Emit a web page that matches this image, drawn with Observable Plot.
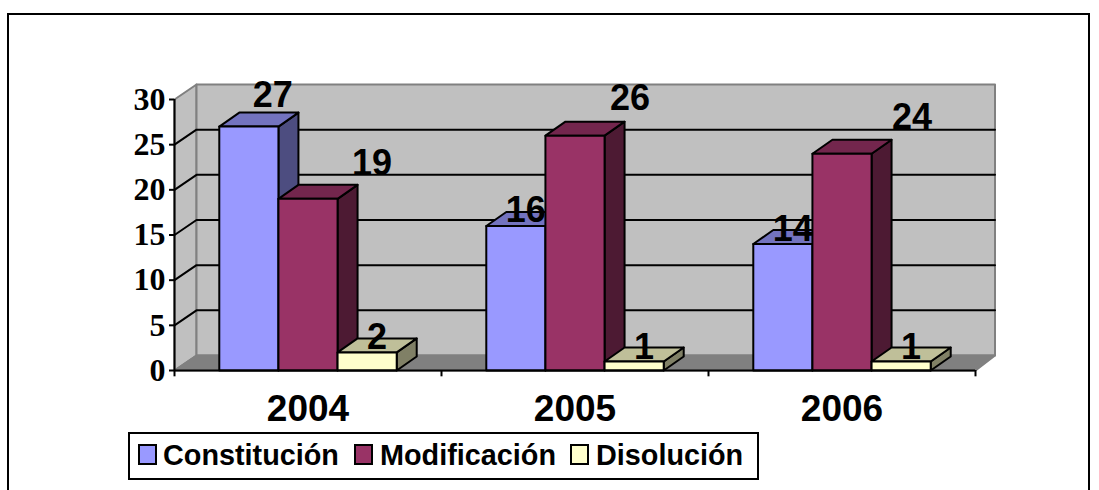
<!DOCTYPE html>
<html lang="es">
<head>
<meta charset="utf-8">
<script src="https://cdn.jsdelivr.net/npm/d3@7"></script>
<script src="https://cdn.jsdelivr.net/npm/@observablehq/plot@0.6"></script>
<style>
html,body{margin:0;padding:0;background:#fff;width:1099px;height:490px;overflow:hidden}
#chart{position:absolute;left:0;top:0}
#chart svg{display:block;background:transparent;overflow:visible}
#frame{position:absolute;left:7px;top:13px;width:1079px;height:500px;border:2px solid #000;box-sizing:content-box}
#legend{position:absolute;left:128px;top:432px;width:627px;height:44px;border:2px solid #000;background:#fff;font:bold 28.8px "Liberation Sans",sans-serif;color:#000}
#legend i{position:absolute;top:10px;width:15px;height:17px;border:2px solid #000}
#legend span{position:absolute;top:5px;line-height:33px;white-space:nowrap}
</style>
</head>
<body>
<div id="frame"></div>
<div id="chart"></div>
<div id="legend"></div>
<script>
const years = ["2004", "2005", "2006"];
const seriesNames = ["Constitución", "Modificación", "Disolución"];
const constitucion = [27, 16, 14];
const modificacion = [19, 26, 24];
const disolucion = [2, 1, 1];
const yTicks = [0, 5, 10, 15, 20, 25, 30];

const seriesValues = [constitucion, modificacion, disolucion];
const frontColors = ["#9999ff", "#993366", "#ffffcc"];
const topColors = ["#7373bf", "#73264d", "#bfbf99"];
const sideColors = ["#4d4d80", "#4d1a33", "#808066"];

// depth of the fake 3D projection, in data units (267px per category, 9.033px per y unit)
const pxX = 267, pxY = 9.033;
const wallDx = 22 / pxX, wallRightDx = 19.5 / pxX, wallDy = 15 / pxY;
const barDx = 20 / pxX, barDy = 14 / pxY;
const barW = 0.2215;
// hand-placed label offsets of the original (px from the bar's top centre)
const labelNudgeX = [[24, 10, 10], [64, 55, 70], [10, 10, 10]];
const labelNudgeY = [[-31, -15, -15], [-35, -37, -36], [-15, -14, -14]];

function poly(list, id, fill, pts) {
  pts.concat([pts[0]]).forEach(([x, y]) => list.push({x, y, id, fill}));
}

const wallPts = [];
const wallR = 3 + wallRightDx;
poly(wallPts, "left", "#c0c0c0", [[0, 0], [wallDx, wallDy], [wallDx, 30 + wallDy], [0, 30]]);
poly(wallPts, "back", "#c0c0c0", [[wallDx, wallDy], [wallR, wallDy], [wallR, 30 + wallDy], [wallDx, 30 + wallDy]]);
poly(wallPts, "floor", "#808080", [[0, 0], [3, 0], [wallR, wallDy], [wallDx, wallDy]]);

const gridPts = [];
yTicks.filter(t => t > 0 && t < 30).forEach(t => {
  gridPts.push({x: 0, y: t, id: t}, {x: wallDx, y: t + wallDy, id: t}, {x: wallR, y: t + wallDy, id: t});
});

const barPts = [];
const labels = [];
years.forEach((yr, i) => {
  seriesValues.forEach((vals, k) => {
    const v = vals[i];
    const x0 = i + 0.5 + (k - 1.5) * barW, x1 = x0 + barW;
    const id = `${yr}-${k}`;
    poly(barPts, id + "s", sideColors[k], [[x1, 0], [x1 + barDx, barDy], [x1 + barDx, v + barDy], [x1, v]]);
    poly(barPts, id + "t", topColors[k], [[x0, v], [x1, v], [x1 + barDx, v + barDy], [x0 + barDx, v + barDy]]);
    poly(barPts, id + "f", frontColors[k], [[x0, 0], [x1, 0], [x1, v], [x0, v]]);
    labels.push({x: (x0 + x1) / 2 + labelNudgeX[k][i] / pxX, y: v - labelNudgeY[k][i] / pxY, text: String(v)});
  });
});

const chart = Plot.plot({
  width: 1099,
  height: 490,
  marginLeft: 174,
  marginRight: 124,
  marginTop: 99,
  marginBottom: 120,
  style: {background: "transparent"},
  x: {type: "linear", domain: [0, 3], axis: null},
  y: {type: "linear", domain: [0, 30], axis: null},
  marks: [
    Plot.line(wallPts, {x: "x", y: "y", z: "id", fill: {value: d => d.fill, scale: null}, stroke: "#808080", strokeWidth: 2}),
    Plot.line(gridPts, {x: "x", y: "y", z: "id", stroke: "#000", strokeWidth: 2}),
    Plot.axisY({ticks: yTicks, tickSize: 5, tickPadding: 4, label: null, stroke: "#000", strokeWidth: 2, fill: "#000",
      fontFamily: "Liberation Serif", fontWeight: "bold", fontSize: 32, tickFormat: d => String(d)}),
    Plot.ruleX([0], {y1: 0, y2: 30, stroke: "#000", strokeWidth: 2}),
    Plot.ruleX([0, 1, 2, 3], {y1: 0, y2: -0.7, stroke: "#000", strokeWidth: 2}),
    Plot.line(barPts, {x: "x", y: "y", z: "id", fill: {value: d => d.fill, scale: null}, stroke: "#000", strokeWidth: 2}),
    Plot.ruleY([0], {x1: 0, x2: 3, stroke: "#000", strokeWidth: 2}),
    Plot.text(labels, {x: "x", y: "y", text: "text", fontFamily: "Liberation Sans", fontWeight: "bold", fontSize: 36, fill: "#000"}),
    Plot.text(years, {x: (d, i) => i + 0.5, y: 0, text: d => d, dy: 39, fontFamily: "Liberation Sans", fontWeight: "bold", fontSize: 37, fill: "#000"})
  ]
});
document.getElementById("chart").append(chart);

const legend = document.getElementById("legend");
const swatchLeft = [8, 224, 440];
const textLeft = [33, 250, 466];
seriesNames.forEach((name, k) => {
  const sw = document.createElement("i");
  sw.style.left = swatchLeft[k] + "px";
  sw.style.background = frontColors[k];
  legend.append(sw);
  const t = document.createElement("span");
  t.style.left = textLeft[k] + "px";
  t.textContent = name;
  legend.append(t);
});
</script>
</body>
</html>
